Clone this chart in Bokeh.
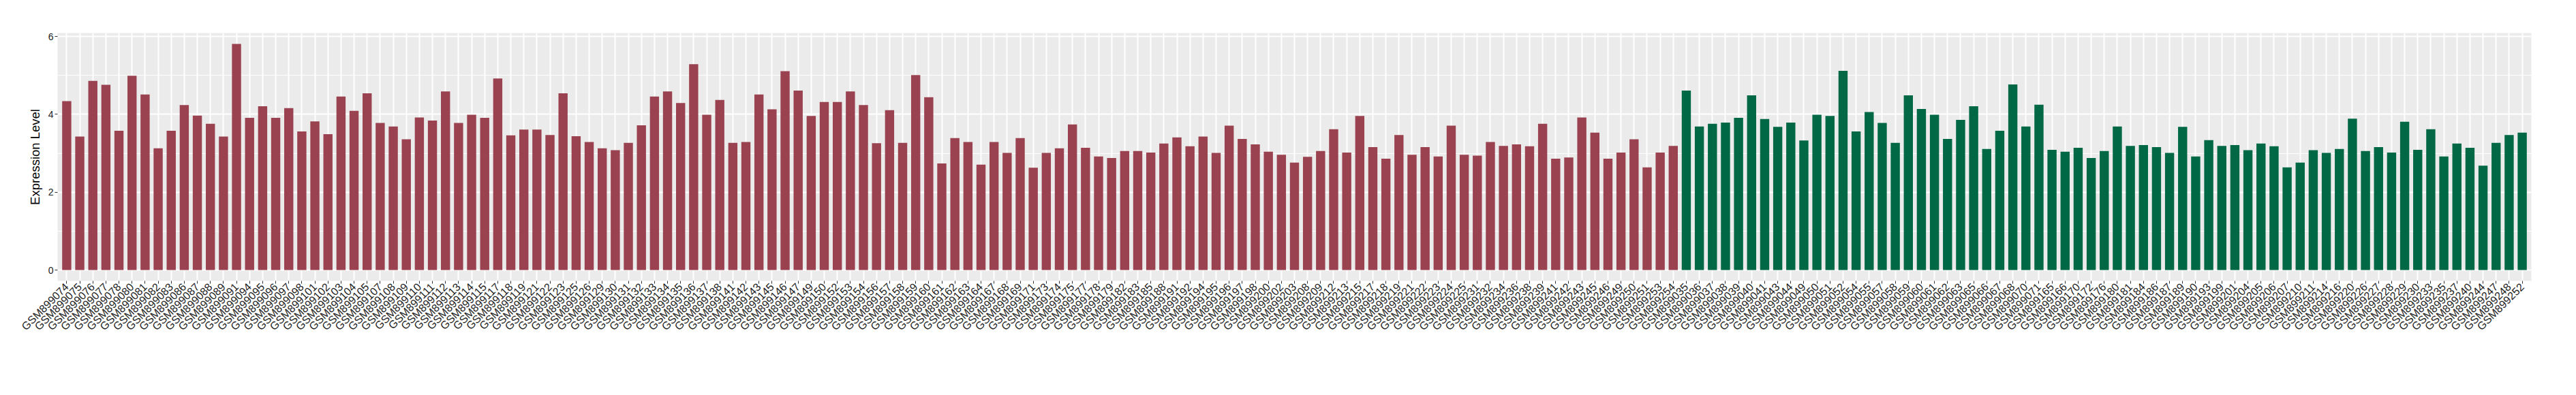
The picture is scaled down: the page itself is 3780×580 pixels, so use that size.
import math
from bokeh.plotting import figure
from bokeh.models import FactorRange, Range1d, FixedTicker, ColumnDataSource
from bokeh.embed import file_html
from bokeh.resources import INLINE

red_samples = [
    "GSM899074", "GSM899075", "GSM899076", "GSM899077", "GSM899078", "GSM899080", "GSM899081", "GSM899082",
    "GSM899083", "GSM899086", "GSM899087", "GSM899088", "GSM899089", "GSM899091", "GSM899094", "GSM899095",
    "GSM899096", "GSM899097", "GSM899098", "GSM899101", "GSM899102", "GSM899103", "GSM899104", "GSM899105",
    "GSM899107", "GSM899108", "GSM899109", "GSM899110", "GSM899111", "GSM899112", "GSM899113", "GSM899114",
    "GSM899115", "GSM899117", "GSM899118", "GSM899119", "GSM899121", "GSM899122", "GSM899123", "GSM899125",
    "GSM899126", "GSM899129", "GSM899130", "GSM899131", "GSM899132", "GSM899133", "GSM899134", "GSM899135",
    "GSM899136", "GSM899137", "GSM899138", "GSM899141", "GSM899142", "GSM899143", "GSM899145", "GSM899146",
    "GSM899147", "GSM899149", "GSM899150", "GSM899152", "GSM899153", "GSM899154", "GSM899156", "GSM899157",
    "GSM899158", "GSM899159", "GSM899160", "GSM899161", "GSM899162", "GSM899163", "GSM899164", "GSM899167",
    "GSM899168", "GSM899169", "GSM899171", "GSM899173", "GSM899174", "GSM899175", "GSM899177", "GSM899178",
    "GSM899179", "GSM899182", "GSM899183", "GSM899185", "GSM899188", "GSM899191", "GSM899192", "GSM899194",
    "GSM899195", "GSM899196", "GSM899197", "GSM899198", "GSM899200", "GSM899202", "GSM899203", "GSM899208",
    "GSM899209", "GSM899212", "GSM899213", "GSM899215", "GSM899217", "GSM899218", "GSM899219", "GSM899221",
    "GSM899222", "GSM899223", "GSM899224", "GSM899225", "GSM899231", "GSM899232", "GSM899234", "GSM899236",
    "GSM899238", "GSM899239", "GSM899241", "GSM899242", "GSM899243", "GSM899245", "GSM899246", "GSM899249",
    "GSM899250", "GSM899251", "GSM899253", "GSM899254",
]
red_values = [
    4.34, 3.43, 4.86, 4.76, 3.58, 4.99, 4.51, 3.13,
    3.58, 4.24, 3.97, 3.76, 3.43, 5.81, 3.91, 4.21,
    3.91, 4.16, 3.56, 3.82, 3.49, 4.46, 4.09, 4.54,
    3.78, 3.69, 3.36, 3.92, 3.84, 4.59, 3.78, 3.99,
    3.91, 4.92, 3.46, 3.61, 3.61, 3.47, 4.54, 3.44,
    3.29, 3.13, 3.08, 3.27, 3.72, 4.46, 4.59, 4.29,
    5.29, 3.99, 4.37, 3.27, 3.29, 4.51, 4.13, 5.11,
    4.61, 3.96, 4.32, 4.32, 4.59, 4.24, 3.26, 4.11,
    3.27, 5.01, 4.44, 2.74, 3.39, 3.29, 2.71, 3.29,
    3.01, 3.39, 2.63, 3.01, 3.13, 3.74, 3.14, 2.92,
    2.88, 3.06, 3.06, 3.02, 3.25, 3.41, 3.18, 3.43,
    3.01, 3.71, 3.37, 3.23, 3.04, 2.96, 2.76, 2.91,
    3.06, 3.62, 3.02, 3.96, 3.16, 2.86, 3.47, 2.96,
    3.16, 2.92, 3.71, 2.96, 2.94, 3.29, 3.19, 3.23,
    3.18, 3.76, 2.86, 2.89, 3.92, 3.53, 2.86, 3.02,
    3.36, 2.64, 3.02, 3.19,
]

green_samples = [
    "GSM899035", "GSM899036", "GSM899037", "GSM899038", "GSM899039", "GSM899040", "GSM899041", "GSM899043",
    "GSM899044", "GSM899049", "GSM899050", "GSM899051", "GSM899052", "GSM899054", "GSM899055", "GSM899057",
    "GSM899058", "GSM899059", "GSM899060", "GSM899061", "GSM899062", "GSM899063", "GSM899065", "GSM899066",
    "GSM899067", "GSM899068", "GSM899070", "GSM899071", "GSM899165", "GSM899166", "GSM899170", "GSM899172",
    "GSM899176", "GSM899180", "GSM899181", "GSM899184", "GSM899186", "GSM899187", "GSM899189", "GSM899190",
    "GSM899193", "GSM899199", "GSM899201", "GSM899204", "GSM899205", "GSM899206", "GSM899207", "GSM899210",
    "GSM899211", "GSM899214", "GSM899216", "GSM899220", "GSM899226", "GSM899227", "GSM899228", "GSM899229",
    "GSM899230", "GSM899233", "GSM899235", "GSM899237", "GSM899240", "GSM899244", "GSM899247", "GSM899248",
    "GSM899252",
]
green_values = [
    4.61, 3.69, 3.76, 3.79, 3.91, 4.49, 3.88, 3.68,
    3.79, 3.33, 3.99, 3.96, 5.12, 3.56, 4.06, 3.78,
    3.27, 4.49, 4.14, 3.99, 3.37, 3.86, 4.21, 3.11,
    3.58, 4.77, 3.69, 4.25, 3.09, 3.04, 3.14, 2.88,
    3.06, 3.69, 3.19, 3.21, 3.16, 3.01, 3.68, 2.92,
    3.34, 3.19, 3.21, 3.08, 3.25, 3.18, 2.64, 2.76,
    3.08, 3.01, 3.11, 3.89, 3.06, 3.16, 3.02, 3.81,
    3.09, 3.62, 2.92, 3.25, 3.14, 2.68, 3.27, 3.47,
    3.53,
]

y_ticks = [0, 2, 4, 6]
y_minor = [1, 3, 5]
y_title = "Expression Level"

RED = "#9A4250"
GREEN = "#006845"
FONT = "Liberation Sans"

all_samples = red_samples + green_samples

p = figure(
    x_range=FactorRange(*all_samples, range_padding=0.2, range_padding_units="absolute"),
    y_range=Range1d(-0.28, 6.09),
    frame_width=3630, frame_height=364,
    output_backend="svg", toolbar_location=None,
    background_fill_color="#EBEBEB", border_fill_color="white",
    outline_line_color=None,
    min_border_left=84, min_border_right=45, min_border_top=48, min_border_bottom=140,
)

red_src = ColumnDataSource(dict(x=red_samples, top=red_values))
green_src = ColumnDataSource(dict(x=green_samples, top=green_values))
p.vbar(x="x", top="top", bottom=0, width=0.7, source=red_src, fill_color=RED, line_color=None)
p.vbar(x="x", top="top", bottom=0, width=0.7, source=green_src, fill_color=GREEN, line_color=None)

p.grid.grid_line_color = "white"
p.grid.grid_line_width = 2
p.ygrid.minor_grid_line_color = "white"
p.ygrid.minor_grid_line_width = 1

p.yaxis.ticker = FixedTicker(ticks=y_ticks, minor_ticks=y_minor)
p.yaxis.minor_tick_line_color = None
p.axis.axis_line_color = None
p.axis.major_tick_line_color = "#333333"
p.axis.major_tick_in = 0
p.axis.major_tick_out = 4
p.axis.major_label_text_font = FONT
p.axis.major_label_text_color = "#222222"
p.axis.major_label_standoff = 2
p.xaxis.major_label_text_font_size = "16px"
p.yaxis.major_label_text_font_size = "14px"

p.xaxis.major_label_orientation = math.pi / 4

p.yaxis.axis_label = y_title
p.yaxis.axis_label_text_font = FONT
p.yaxis.axis_label_text_font_size = "18.5px"
p.yaxis.axis_label_text_font_style = "normal"
p.yaxis.axis_label_text_color = "black"
p.yaxis.axis_label_standoff = 6

open("out.html", "w").write(file_html(p, INLINE))
